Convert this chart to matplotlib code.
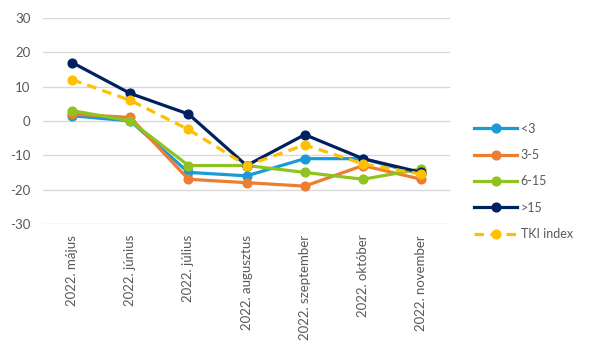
import numpy as np
import matplotlib.pyplot as plt

plt.rcParams['font.family'] = ['Lato', 'DejaVu Sans']
plt.rcParams['axes.unicode_minus'] = False

# categories
months = ["2022. május", "2022. június", "2022. július", "2022. augusztus",
          "2022. szeptember", "2022. október", "2022. november"]

# series values
lt3 = [1.5, 0, -15, -16, -11, -11, -15.5]
s3_5 = [2, 1, -17, -18, -19, -13, -17]
s6_15 = [3, 0, -13, -13, -15, -17, -14]
gt15 = [17, 8, 2, -13, -4, -11, -15]
tki = [12, 6, -2.5, -13, -7, -12.5, -15.5]

yticks = [-30, -20, -10, 0, 10, 20, 30]

fig = plt.figure(figsize=(5.9, 3.52), dpi=100)
ax = fig.add_axes([0.073, 0.364, 0.69, 0.585])

x = np.arange(len(months))
lw = 2.3
ms = 6.3
ax.plot(x, lt3, color='#1a9bd7', lw=lw, marker='o', ms=ms, label='<3', zorder=3)
ax.plot(x, s3_5, color='#ed7d31', lw=lw, marker='o', ms=ms, label='3-5', zorder=3)
ax.plot(x, s6_15, color='#8fc31f', lw=lw, marker='o', ms=ms, label='6-15', zorder=3)
ax.plot(x, gt15, color='#002060', lw=lw, marker='o', ms=ms, label='>15', zorder=4)
ax.plot(x, tki, color='#ffc000', lw=lw, ls=(0, (3, 2)), marker='o', ms=ms,
        label='TKI index', zorder=5)

ax.set_xlim(-0.5, len(months) - 0.5)
ax.set_ylim(-30, 30)
ax.set_yticks(yticks)
ax.set_xticks(x)
ax.set_xticklabels(months, rotation=90, va='top')
ax.yaxis.grid(True, color='#d9d9d9', lw=1)
ax.set_axisbelow(True)
for s in ax.spines.values():
    s.set_visible(False)
ax.tick_params(axis='both', length=0, colors='#595959', labelsize=9.5)
ax.tick_params(axis='x', pad=8)
ax.tick_params(axis='y', pad=9)

leg = fig.legend(loc='center left', bbox_to_anchor=(0.785, 0.485), frameon=False,
                 fontsize=9, labelspacing=1.15, handlelength=3.4, handletextpad=0.3)
for t in leg.get_texts():
    t.set_color('#595959')

fig.savefig('out.png', dpi=100)
